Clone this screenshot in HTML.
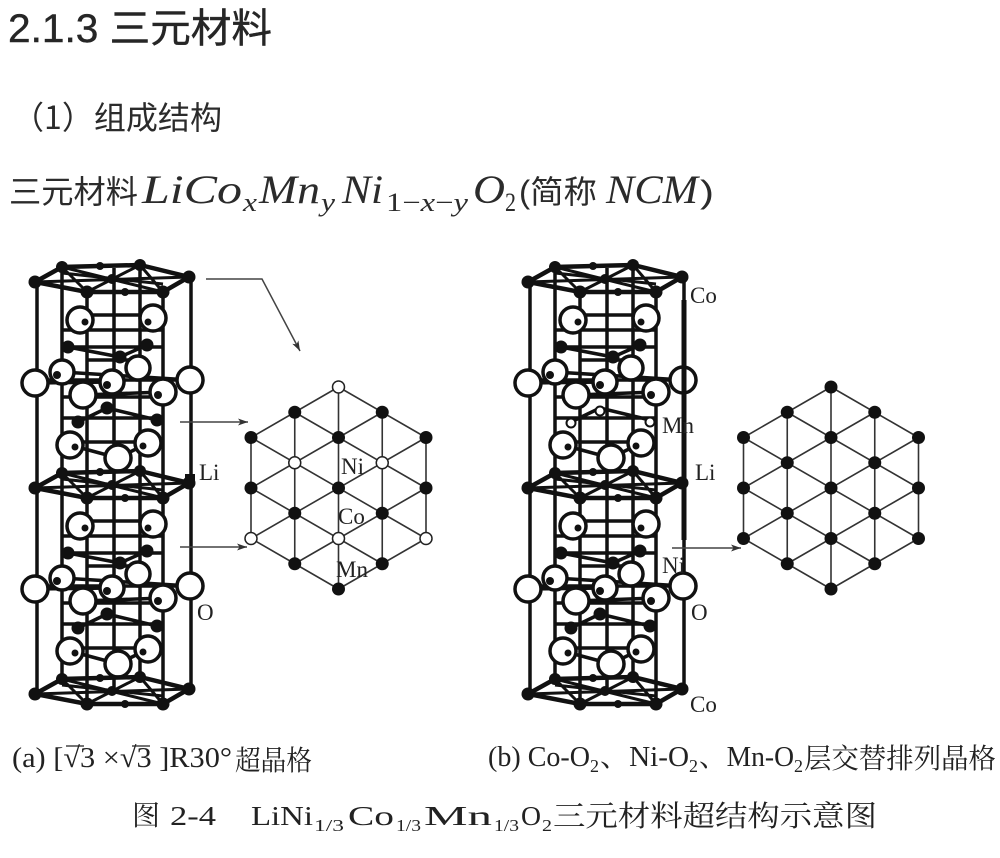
<!DOCTYPE html>
<html><head><meta charset="utf-8"><style>
html,body{margin:0;padding:0;background:#fff;}
svg{display:block;}
</style></head><body>
<svg width="1000" height="858" viewBox="0 0 1000 858" xmlns="http://www.w3.org/2000/svg" xmlns:xlink="http://www.w3.org/1999/xlink">
<defs>
<marker id="ah" viewBox="0 0 10 8" markerWidth="10" markerHeight="8" refX="10" refY="4" orient="auto" markerUnits="userSpaceOnUse"><path d="M0,0.5 L10,4 L0,7.5 L2.5,4 Z" fill="#333"/></marker>
<g id="hex">
 <polygon points="35,4 62,-11 140,-13 189,-1 163,14 87,14" fill="none" stroke="#111" stroke-width="4.5"/>
 <path d="M35,4 L189,-1 M62,-11 L163,14 M140,-13 L87,14 M62,-11 L87,14 M140,-13 L163,14 M35,4 L62,-11 M62,-5 L163,6" stroke="#111" stroke-width="3" fill="none"/>
 <g fill="#111">
  <circle cx="35" cy="4" r="6.5"/><circle cx="62" cy="-11" r="6"/><circle cx="140" cy="-13" r="6"/>
  <circle cx="189" cy="-1" r="6.5"/><circle cx="163" cy="14" r="6.5"/><circle cx="87" cy="14" r="6.5"/>
  <circle cx="112" cy="1" r="5"/><circle cx="100" cy="-12" r="4"/><circle cx="125" cy="14" r="4"/>
 </g>
</g>
<g id="blk">
 <path d="M80,315 H153 M62,347 H163 M87,360 H140 M37,380 H191 M62,397 H163 M62,418 H163 M70,442 H148 M68,347 L120,357 L147,345 M78,422 L107,408 L157,420 M62,372 L190,380 M35,383 L112,382 M83,395 L163,392 M70,445 L118,458 L148,443 M62,330 H163" stroke="#111" stroke-width="3.5" fill="none"/>
 <g fill="#fff" stroke="#111" stroke-width="3.5">
  <circle cx="80" cy="320" r="13"/><circle cx="153" cy="318" r="13"/>
  <circle cx="62" cy="372" r="12"/><circle cx="35" cy="383" r="13"/><circle cx="112" cy="382" r="12"/>
  <circle cx="138" cy="368" r="12"/><circle cx="190" cy="380" r="13"/><circle cx="83" cy="395" r="13"/>
  <circle cx="163" cy="392" r="13"/>
  <circle cx="70" cy="445" r="13"/><circle cx="148" cy="443" r="13"/><circle cx="118" cy="458" r="13"/>
 </g>
 <g fill="#111">
  <circle cx="68" cy="347" r="6.5"/><circle cx="147" cy="345" r="6.5"/><circle cx="120" cy="357" r="6.5"/>
  <circle cx="57" cy="375" r="4"/><circle cx="107" cy="385" r="4"/><circle cx="158" cy="395" r="4"/>
  <circle cx="85" cy="322" r="3.5"/><circle cx="148" cy="322" r="3.5"/><circle cx="75" cy="447" r="3.5"/><circle cx="143" cy="446" r="3.5"/>
 </g>
</g>
<g id="st">
 <path d="M37,282 V692 M62,267 V678 M87,292 V703 M114,268 V690 M140,265 V676 M163,292 V700" stroke="#111" stroke-width="3.5" fill="none"/>
 <path d="M191,277 V688" stroke="#111" stroke-width="3.5" fill="none"/>
 <use xlink:href="#blk"/>
 <use xlink:href="#blk" transform="translate(0,206)"/>
 <use xlink:href="#hex" transform="translate(0,278)"/>
 <use xlink:href="#hex" transform="translate(0,484)"/>
 <use xlink:href="#hex" transform="translate(0,690)"/>
</g>
<path id="latl" d="M-87.5,-50.5 V50.5 M-43.75,-75.75 V75.75 M0,-101 V101 M43.75,-75.75 V75.75 M87.5,-50.5 V50.5 M0,-101 L87.5,-50.5 M-43.75,-75.75 L87.5,0 M-87.5,-50.5 L87.5,50.5 M-87.5,0 L43.75,75.75 M-87.5,50.5 L0,101 M-87.5,-50.5 L0,-101 M-87.5,0 L43.75,-75.75 M-87.5,50.5 L87.5,-50.5 M-43.75,75.75 L87.5,0 M0,101 L87.5,50.5" stroke="#333" stroke-width="1.6" fill="none"/>
</defs>

<!-- headings -->
<text x="8" y="42" font-family="'Liberation Sans','Noto Sans CJK SC',sans-serif" font-size="40" fill="#262626" stroke="#262626" stroke-width="0.4" textLength="264" lengthAdjust="spacingAndGlyphs">2.1.3 三元材料</text>
<text x="12" y="129" font-family="'Noto Sans CJK SC','Liberation Sans',sans-serif" font-size="32" fill="#2b2b2b" textLength="210" lengthAdjust="spacingAndGlyphs">（1）组成结构</text>

<g fill="#2b2b2b">
<text x="9" y="203" font-family="'Liberation Sans','Noto Sans CJK SC',sans-serif" font-size="32" textLength="129" lengthAdjust="spacingAndGlyphs">三元材料</text>
<g font-family="'Liberation Serif',serif" font-style="italic">
<text x="142" y="203" font-size="40" textLength="100" lengthAdjust="spacingAndGlyphs">LiCo</text>
<text x="243" y="211" font-size="26" textLength="14" lengthAdjust="spacingAndGlyphs">x</text>
<text x="259" y="203" font-size="40" textLength="61" lengthAdjust="spacingAndGlyphs">Mn</text>
<text x="321" y="211" font-size="26" textLength="14" lengthAdjust="spacingAndGlyphs">y</text>
<text x="342" y="203" font-size="40" textLength="41" lengthAdjust="spacingAndGlyphs">Ni</text>
<text x="386" y="211" font-size="26" textLength="82" lengthAdjust="spacingAndGlyphs"><tspan font-style="normal">1−</tspan>x<tspan font-style="normal">−</tspan>y</text>
<text x="473" y="203" font-size="40" textLength="32" lengthAdjust="spacingAndGlyphs">O</text>
<text x="505" y="211" font-size="26" font-style="normal" textLength="11" lengthAdjust="spacingAndGlyphs">2</text>
<text x="606" y="203" font-size="40" textLength="92" lengthAdjust="spacingAndGlyphs">NCM</text>
</g>
<text x="519" y="203" font-family="'Liberation Sans','Noto Sans CJK SC',sans-serif" font-size="32" textLength="78" lengthAdjust="spacingAndGlyphs">(简称</text>
<text x="700" y="203" font-family="'Liberation Sans',sans-serif" font-size="32" textLength="14" lengthAdjust="spacingAndGlyphs">)</text>
</g>

<!-- crystal structures -->
<use xlink:href="#st"/>
<use xlink:href="#st" transform="translate(493,0)"/>
<g fill="#111">
 <circle cx="78" cy="422" r="6.5"/><circle cx="157" cy="420" r="6.5"/><circle cx="107" cy="408" r="6.5"/>
 <circle cx="78" cy="628" r="6.5"/><circle cx="157" cy="626" r="6.5"/><circle cx="107" cy="614" r="6.5"/>
 <circle cx="571" cy="628" r="6.5"/><circle cx="650" cy="626" r="6.5"/><circle cx="600" cy="614" r="6.5"/>
 <rect x="185" y="474" width="10" height="10"/>
</g>
<g fill="#fff" stroke="#111" stroke-width="2">
 <circle cx="571" cy="423" r="4.5"/><circle cx="650" cy="422" r="4.5"/><circle cx="600" cy="411" r="4.5"/>
</g>
<path d="M684,300 V540" stroke="#111" stroke-width="5"/>

<!-- arrows -->
<g stroke="#444" stroke-width="1.5" fill="none" marker-end="url(#ah)">
 <polyline points="206,279 262,279 300,351"/>
 <line x1="180" y1="422" x2="248" y2="422"/>
 <line x1="180" y1="547" x2="247" y2="547"/>
 <line x1="672" y1="548" x2="741" y2="548"/>
</g>

<!-- left lattice -->
<g transform="translate(338.5,488)">
 <use xlink:href="#latl"/>
 <g fill="#111">
  <circle cx="0" cy="-50.5" r="6.5"/><circle cx="0" cy="0" r="6.5"/><circle cx="0" cy="101" r="6.5"/>
  <circle cx="-43.75" cy="-75.75" r="6.5"/><circle cx="-43.75" cy="25.25" r="6.5"/><circle cx="-43.75" cy="75.75" r="6.5"/>
  <circle cx="43.75" cy="-75.75" r="6.5"/><circle cx="43.75" cy="25.25" r="6.5"/><circle cx="43.75" cy="75.75" r="6.5"/>
  <circle cx="-87.5" cy="-50.5" r="6.5"/><circle cx="-87.5" cy="0" r="6.5"/>
  <circle cx="87.5" cy="-50.5" r="6.5"/><circle cx="87.5" cy="0" r="6.5"/>
 </g>
 <g fill="#fff" stroke="#222" stroke-width="1.5">
  <circle cx="0" cy="-101" r="6"/><circle cx="0" cy="50.5" r="6"/>
  <circle cx="-43.75" cy="-25.25" r="6"/><circle cx="43.75" cy="-25.25" r="6"/>
  <circle cx="-87.5" cy="50.5" r="6"/><circle cx="87.5" cy="50.5" r="6"/>
 </g>
</g>

<!-- right lattice -->
<g transform="translate(831,488)">
 <use xlink:href="#latl"/>
 <g fill="#111">
  <circle cx="0" cy="-101" r="6.5"/><circle cx="0" cy="-50.5" r="6.5"/><circle cx="0" cy="0" r="6.5"/><circle cx="0" cy="50.5" r="6.5"/><circle cx="0" cy="101" r="6.5"/>
  <circle cx="-43.75" cy="-75.75" r="6.5"/><circle cx="-43.75" cy="-25.25" r="6.5"/><circle cx="-43.75" cy="25.25" r="6.5"/><circle cx="-43.75" cy="75.75" r="6.5"/>
  <circle cx="43.75" cy="-75.75" r="6.5"/><circle cx="43.75" cy="-25.25" r="6.5"/><circle cx="43.75" cy="25.25" r="6.5"/><circle cx="43.75" cy="75.75" r="6.5"/>
  <circle cx="-87.5" cy="-50.5" r="6.5"/><circle cx="-87.5" cy="0" r="6.5"/><circle cx="-87.5" cy="50.5" r="6.5"/>
  <circle cx="87.5" cy="-50.5" r="6.5"/><circle cx="87.5" cy="0" r="6.5"/><circle cx="87.5" cy="50.5" r="6.5"/>
 </g>
</g>

<!-- labels -->
<g font-family="'Liberation Serif',serif" font-size="23" fill="#222">
 <text x="199" y="480">Li</text>
 <text x="197" y="620">O</text>
 <text x="341" y="474">Ni</text>
 <text x="338" y="524">Co</text>
 <text x="336" y="577">Mn</text>
 <text x="690" y="303">Co</text>
 <text x="662" y="433">Mn</text>
 <text x="695" y="480">Li</text>
 <text x="662" y="573">Ni</text>
 <text x="691" y="620">O</text>
 <text x="690" y="712">Co</text>
</g>

<!-- captions -->
<g fill="#222">
 <text x="12" y="767" font-family="'Liberation Serif',serif" font-size="29" textLength="220" lengthAdjust="spacingAndGlyphs">(a) [√3 ×√3 ]R30°</text>
 <path d="M66,746 H84 M132,746 H150" stroke="#222" stroke-width="1.3"/>
 <text x="235" y="770" font-family="'Noto Serif CJK SC',serif" font-size="28" textLength="77" lengthAdjust="spacingAndGlyphs">超晶格</text>

 <g font-family="'Liberation Serif','Noto Serif CJK SC',serif" font-size="28">
  <text x="488" y="766" textLength="102" lengthAdjust="spacingAndGlyphs">(b) Co-O</text>
  <text x="590" y="772" font-size="18" textLength="9" lengthAdjust="spacingAndGlyphs">2</text>
  <text x="600" y="766" textLength="89" lengthAdjust="spacingAndGlyphs">、Ni-O</text>
  <text x="689" y="772" font-size="18" textLength="9" lengthAdjust="spacingAndGlyphs">2</text>
  <text x="699" y="766" textLength="95" lengthAdjust="spacingAndGlyphs">、Mn-O</text>
  <text x="794" y="772" font-size="18" textLength="9" lengthAdjust="spacingAndGlyphs">2</text>
 </g>
 <text x="804" y="768" font-family="'Noto Serif CJK SC',serif" font-size="28" textLength="192" lengthAdjust="spacingAndGlyphs">层交替排列晶格</text>

 <g font-family="'Liberation Serif','Noto Serif CJK SC',serif" font-size="27">
  <text x="132" y="825" font-family="'Noto Serif CJK SC',serif" font-size="28">图</text>
  <text x="170" y="825" textLength="46" lengthAdjust="spacingAndGlyphs">2-4</text>
  <text x="251" y="825" textLength="62" lengthAdjust="spacingAndGlyphs">LiNi</text>
  <text x="314" y="831" font-size="17" textLength="30" lengthAdjust="spacingAndGlyphs">1/3</text>
  <text x="348" y="825" textLength="46" lengthAdjust="spacingAndGlyphs">Co</text>
  <text x="396" y="831" font-size="17" textLength="25" lengthAdjust="spacingAndGlyphs">1/3</text>
  <text x="424" y="825" textLength="68" lengthAdjust="spacingAndGlyphs">Mn</text>
  <text x="494" y="831" font-size="17" textLength="25" lengthAdjust="spacingAndGlyphs">1/3</text>
  <text x="521" y="825" textLength="20" lengthAdjust="spacingAndGlyphs">O</text>
  <text x="542" y="831" font-size="17" textLength="10" lengthAdjust="spacingAndGlyphs">2</text>
  <text x="553" y="826" font-family="'Noto Serif CJK SC',serif" font-size="29" textLength="324" lengthAdjust="spacingAndGlyphs">三元材料超结构示意图</text>
 </g>
</g>
</svg>
</body></html>
